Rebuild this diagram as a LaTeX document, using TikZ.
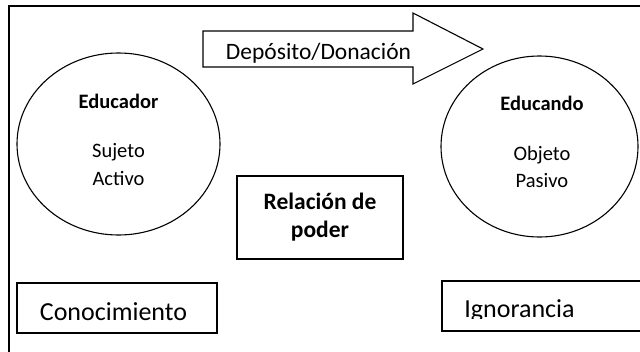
\documentclass[tikz,border=0pt]{standalone}
\usepackage{fontspec}
\setmainfont{Carlito}
\begin{document}
\begin{tikzpicture}[x=1pt,y=-1pt,
  shape line/.style={draw=black,line width=1.1pt},
  circtext/.style={font=\fontsize{20.5}{24}\selectfont,anchor=base,inner sep=0pt},
  circbold/.style={font=\fontsize{20.5}{24}\selectfont\bfseries,anchor=base,inner sep=0pt},
  boxtext/.style={font=\fontsize{26}{30}\selectfont,anchor=base,inner sep=0pt}]
\useasboundingbox (0,0) rectangle (640,351);
\clip (0,0) rectangle (640,351);
\fill[white] (0,0) rectangle (640,351);
% outer frame
\draw[line width=1.4pt] (9,360) -- (9,6) -- (650,6);
% arrow
\draw[shape line] (203,31) -- (413,31) -- (413,13) -- (483,49) -- (413,84) -- (413,67) -- (203,67) -- cycle;
\node[anchor=base,inner sep=0pt,font=\fontsize{23.5}{28}\selectfont] (dep) at (318.5,59) {Depósito/Donación};
% circles
\draw[shape line] (118.5,144) ellipse [x radius=101.5,y radius=91];
\node[circbold] (edr) at (118.5,108) {Educador};
\node[circtext] (suj) at (118.5,157) {Sujeto};
\node[circtext] (act) at (118.5,185) {Activo};
\draw[shape line] (539.5,146.5) ellipse [x radius=98.5,y radius=90.5];
\node[circbold] (edo) at (542,110) {Educando};
\node[circtext] (obj) at (542,160) {Objeto};
\node[circtext] (pas) at (542,187) {Pasivo};
% relation box
\draw[shape line] (237,176) rectangle (403,259);
\node[anchor=base,inner sep=0pt,align=center,font=\fontsize{23.5}{28}\selectfont\bfseries] (rel) at (320,209) {Relación de};
\node[anchor=base,inner sep=0pt,font=\fontsize{23.5}{28}\selectfont\bfseries] (pod) at (320,237) {poder};
% bottom boxes
\draw[shape line] (17,283) rectangle (217,333);
\node[boxtext] (con) at (113.5,320) {Conocimiento};
\draw[shape line] (442,281) rectangle (660,331);
\begin{scope}
\clip (442,281) rectangle (640,318);
\node[boxtext] (ign) at (519.5,317) {Ignorancia};
\end{scope}
\end{tikzpicture}
\end{document}
